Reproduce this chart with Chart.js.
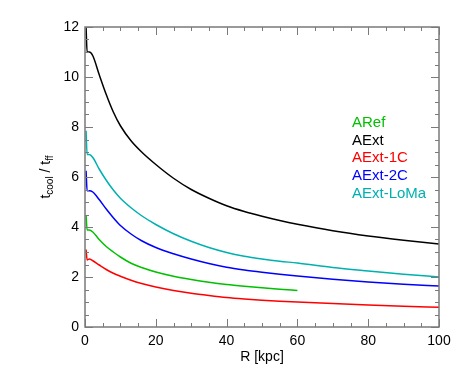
<!DOCTYPE html>
<html lang="en">
<head>
<meta charset="UTF-8">
<title>t_cool / t_ff vs R</title>
<script src="https://cdn.jsdelivr.net/npm/chart.js"></script>
<style>
    body { margin: 0; background: #ffffff; }
    #myChart { display: block; }
</style>
</head>
<body>
<canvas id="myChart" width="463" height="382"></canvas>
<script>
// radius grid in kpc (shared by all runs)
const radius  = [0.3, 0.6, 1.2, 2.2, 4, 6, 8, 10, 13, 16, 20, 25, 30, 35, 40, 45, 50, 55, 60, 70, 80, 90, 100];
// t_cool / t_ff for each run
const aRef    = [4.48, 3.88, 3.88, 3.80, 3.50, 3.22, 3.00, 2.80, 2.55, 2.38, 2.20, 2.03, 1.90, 1.79, 1.70, 1.63, 1.57, 1.51, 1.46, null, null, null, null];
const aExt    = [12.0, 11.0, 11.0, 10.85, 10.10, 9.30, 8.60, 8.05, 7.45, 7.00, 6.50, 5.95, 5.50, 5.15, 4.85, 4.62, 4.43, 4.26, 4.11, 3.85, 3.64, 3.47, 3.32];
const aExt1C  = [3.10, 2.68, 2.72, 2.65, 2.48, 2.30, 2.15, 2.03, 1.87, 1.74, 1.60, 1.46, 1.35, 1.26, 1.18, 1.12, 1.07, 1.03, 1.00, 0.94, 0.88, 0.83, 0.79];
const aExt2C  = [6.25, 5.45, 5.45, 5.40, 5.10, 4.72, 4.37, 4.06, 3.72, 3.45, 3.18, 2.93, 2.72, 2.54, 2.39, 2.28, 2.19, 2.11, 2.04, 1.91, 1.80, 1.71, 1.64];
const aExtLoMa = [7.85, 6.90, 6.90, 6.78, 6.32, 5.87, 5.48, 5.15, 4.77, 4.45, 4.10, 3.73, 3.43, 3.18, 2.98, 2.83, 2.72, 2.63, 2.56, 2.38, 2.24, 2.11, 2.00];

const seriesNames  = ['ARef', 'AExt', 'AExt-1C', 'AExt-2C', 'AExt-LoMa'];
const seriesValues = [aRef, aExt, aExt1C, aExt2C, aExtLoMa];
const seriesColors = ['#00c000', '#000000', '#ff0000', '#0000ff', '#00b0b0'];

const xTicks = [0, 20, 40, 60, 80, 100];
const yTicks = [0, 2, 4, 6, 8, 10, 12];

const FONT = "'Liberation Sans', Arial, Helvetica, sans-serif";

function toPoints(vals) {
    const pts = [];
    vals.forEach((v, i) => { if (v !== null) pts.push({ x: radius[i], y: v }); });
    return pts;
}

// box with inward ticks on all four sides, legend text and axis titles
const boxPlugin = {
    id: 'box',
    afterDraw(chart) {
        const { ctx, chartArea: a, scales } = chart;
        const xs = scales.x, ys = scales.y;
        ctx.save();
        ctx.strokeStyle = '#7a7a7a';
        ctx.lineWidth = 1.5;
        ctx.strokeRect(a.left, a.top, a.right - a.left, a.bottom - a.top);

        ctx.lineWidth = 1;
        ctx.beginPath();
        for (let v = 0; v <= 100; v += 5) {
            const px = Math.round(xs.getPixelForValue(v)) + 0.5;
            const len = v % 20 === 0 ? 8 : 4;
            ctx.moveTo(px, a.bottom); ctx.lineTo(px, a.bottom - len);
            ctx.moveTo(px, a.top); ctx.lineTo(px, a.top + len);
        }
        for (let v = 0; v <= 12; v += 0.5) {
            const py = Math.round(ys.getPixelForValue(v)) + 0.5;
            const len = v % 2 === 0 ? 8 : 4;
            ctx.moveTo(a.left, py); ctx.lineTo(a.left + len, py);
            ctx.moveTo(a.right, py); ctx.lineTo(a.right - len, py);
        }
        ctx.stroke();

        // legend
        ctx.font = '15px ' + FONT;
        ctx.textAlign = 'left';
        ctx.textBaseline = 'alphabetic';
        seriesNames.forEach((name, i) => {
            ctx.fillStyle = seriesColors[i];
            ctx.fillText(name, 352, 127 + i * 17.7);
        });

        // x title
        ctx.fillStyle = '#000';
        ctx.font = '14px ' + FONT;
        ctx.textAlign = 'center';
        ctx.textBaseline = 'middle';
        ctx.fillText('R [kpc]', (a.left + a.right) / 2, 357);

        // y title with subscripts
        const parts = [['t', 14, 0], ['cool', 10, 3], [' / t', 14, 0], ['ff', 10, 3]];
        let total = 0;
        parts.forEach(p => { ctx.font = p[1] + 'px ' + FONT; total += ctx.measureText(p[0]).width; });
        ctx.translate(50, (a.top + a.bottom) / 2);
        ctx.rotate(-Math.PI / 2);
        ctx.textAlign = 'left';
        ctx.textBaseline = 'alphabetic';
        let cx = -total / 2;
        parts.forEach(p => {
            ctx.font = p[1] + 'px ' + FONT;
            ctx.fillText(p[0], cx, p[2]);
            cx += ctx.measureText(p[0]).width;
        });
        ctx.restore();
    }
};

const ctx = document.getElementById('myChart').getContext('2d');
new Chart(ctx, {
    type: 'line',
    data: {
        datasets: seriesNames.map((name, i) => ({
            label: name,
            data: toPoints(seriesValues[i]),
            borderColor: seriesColors[i],
            backgroundColor: seriesColors[i],
            borderWidth: 1.5,
            pointRadius: 0,
            cubicInterpolationMode: 'monotone',
            fill: false
        }))
    },
    options: {
        responsive: false,
        animation: false,
        layout: { padding: { left: 0, top: 27, right: 24, bottom: 0 } },
        plugins: { legend: { display: false }, tooltip: { enabled: false } },
        scales: {
            x: {
                type: 'linear', min: 0, max: 100,
                afterBuildTicks: s => { s.ticks = xTicks.map(v => ({ value: v })); },
                afterFit: s => { s.height = 55; },
                grid: { display: false, drawTicks: false },
                border: { display: false },
                ticks: { color: '#000', padding: 6, maxRotation: 0, font: { family: FONT, size: 14 } }
            },
            y: {
                type: 'linear', min: 0, max: 12,
                afterBuildTicks: s => { s.ticks = yTicks.map(v => ({ value: v })); },
                afterFit: s => { s.width = 85; },
                grid: { display: false, drawTicks: false },
                border: { display: false },
                ticks: { color: '#000', padding: 6, font: { family: FONT, size: 14 } }
            }
        }
    },
    plugins: [boxPlugin]
});
</script>
</body>
</html>
